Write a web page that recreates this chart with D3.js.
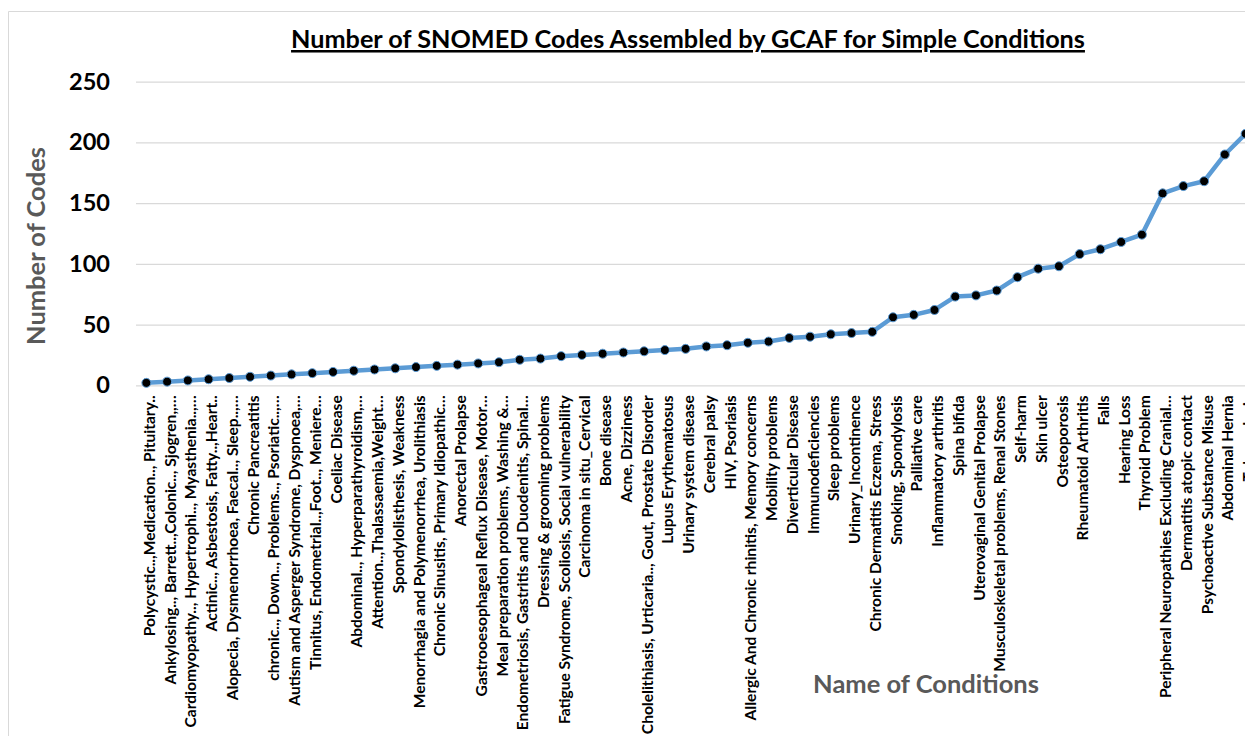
<!DOCTYPE html>
<html>
<head>
<meta charset="utf-8">
<script src="https://cdn.jsdelivr.net/npm/d3@7"></script>
<style>
  body { margin: 0; background: #fff; }
  svg { display: block; }
  text { font-family: "Lato", "Open Sans", sans-serif; font-weight: bold; }
</style>
</head>
<body>
<div id="vis"></div>
<script>
// Condition names (x categories), in the order they appear on the axis
const CONDITIONS = [
  "Polycystic..,Medication.., Pituitary..",
  "Ankylosing.., Barrett..,Colonic.., Sjogren,,…",
  "Cardiomyopathy.., Hypertrophi.., Myasthenia..,…",
  "Actinic.., Asbestosis, Fatty..,Heart..",
  "Alopecia, Dysmenorrhoea, Faecal.., Sleep..,…",
  "Chronic Pancreatitis",
  "chronic.., Down.., Problems.., Psoriatic..,…",
  "Autism and Asperger Syndrome, Dyspnoea,…",
  "Tinnitus, Endometrial..,Foot.., Meniere…",
  "Coeliac Disease",
  "Abdominal.., Hyperparathyroidism,…",
  "Attention..,Thalassaemia,Weight…",
  "Spondylolisthesis, Weakness",
  "Menorrhagia and Polymenorrhea, Urolithiasis",
  "Chronic Sinusitis, Primary Idiopathic…",
  "Anorectal Prolapse",
  "Gastrooesophageal Reflux Disease, Motor…",
  "Meal preparation problems, Washing &…",
  "Endometriosis, Gastritis and Duodenitis, Spinal…",
  "Dressing & grooming problems",
  "Fatigue Syndrome, Scoliosis, Social vulnerability",
  "Carcinoma in situ_Cervical",
  "Bone disease",
  "Acne, Dizziness",
  "Cholelithiasis, Urticaria.., Gout, Prostate Disorder",
  "Lupus Erythematosus",
  "Urinary system disease",
  "Cerebral palsy",
  "HIV, Psoriasis",
  "Allergic And Chronic rhinitis, Memory concerns",
  "Mobility problems",
  "Diverticular Disease",
  "Immunodeficiencies",
  "Sleep problems",
  "Urinary_Incontinence",
  "Chronic Dermatitis Eczema, Stress",
  "Smoking, Spondylosis",
  "Palliative care",
  "Inflammatory arthritis",
  "Spina bifida",
  "Uterovaginal Genital Prolapse",
  "Musculoskeletal problems, Renal Stones",
  "Self-harm",
  "Skin ulcer",
  "Osteoporosis",
  "Rheumatoid Arthritis",
  "Falls",
  "Hearing Loss",
  "Thyroid Problem",
  "Peripheral Neuropathies Excluding Cranial…",
  "Dermatitis atopic contact",
  "Psychoactive Substance Misuse",
  "Abdominal Hernia",
  "Tuberculosis"
];

// Number of codes per condition
const CODE_COUNTS = [
  2, 3, 4, 5, 6, 7, 8, 9, 10, 11,
  12, 13, 14, 15, 16, 17, 18, 19, 21, 22,
  24, 25, 26, 27, 28, 29, 30, 32, 33, 35,
  36, 39, 40, 42, 43, 44, 56, 58, 62, 73,
  74, 78, 89, 96, 98, 108, 112, 118, 124, 158,
  164, 168, 190, 207
];

// Y axis ticks
const Y_TICKS = [0, 50, 100, 150, 200, 250];

const FRAME_WIDTH = 1245;
const FRAME_HEIGHT = 736;
const PLOT = {left: 136, top: 81.6, bottom: 385.3, step: 20.74};
const PLOT_RIGHT = PLOT.left + PLOT.step * CONDITIONS.length;

const FRAME = d3.select("#vis")
  .append("svg")
    .attr("width", FRAME_WIDTH)
    .attr("height", FRAME_HEIGHT);

// Make a text element's width match a target width by scaling its font size
function fitWidth(sel, target) {
  const size = parseFloat(sel.style("font-size"));
  const w = sel.node().getComputedTextLength();
  sel.style("font-size", (size * target / w) + "px");
}

// Chart area border (only top and left edges are inside the frame)
FRAME.append("path")
  .attr("d", "M8.5," + FRAME_HEIGHT + "V11.5H" + FRAME_WIDTH)
  .attr("fill", "none")
  .attr("stroke", "#d9d9d9")
  .attr("stroke-width", 1);

// Scales
const X_SCALE = d3.scaleBand()
  .domain(CONDITIONS)
  .range([PLOT.left, PLOT_RIGHT]);

const Y_SCALE = d3.scaleLinear()
  .domain([0, 250])
  .range([PLOT.bottom, PLOT.top]);

// Title
const title = FRAME.append("text")
  .attr("x", 688)
  .attr("y", 48)
  .attr("text-anchor", "middle")
  .style("font-size", "22px")
  .style("text-decoration", "underline")
  .attr("fill", "#000")
  .text("Number of SNOMED Codes Assembled by GCAF for Simple Conditions");
fitWidth(title, 794);

// Y axis with gridlines
const yAxis = FRAME.append("g")
  .attr("transform", "translate(" + PLOT.left + ",0)")
  .call(d3.axisLeft(Y_SCALE)
    .tickValues(Y_TICKS)
    .tickSizeInner(-(PLOT_RIGHT - PLOT.left))
    .tickSizeOuter(0)
    .tickPadding(26));
yAxis.select(".domain").remove();
yAxis.selectAll("line")
  .attr("stroke", "#d9d9d9")
  .attr("stroke-width", 1.2);
yAxis.selectAll("text")
  .attr("fill", "#000")
  .attr("font-family", null)
  .style("font-size", "25px");
fitWidth(yAxis.selectAll("text").filter((d) => d === 250), 41);
const yTickSize = yAxis.selectAll("text").filter((d) => d === 250).style("font-size");
yAxis.selectAll("text").style("font-size", yTickSize);

// Y axis title
const yTitle = FRAME.append("text")
  .attr("transform", "translate(45,246) rotate(-90)")
  .attr("text-anchor", "middle")
  .attr("fill", "#595959")
  .style("font-size", "25px")
  .text("Number of Codes");
fitWidth(yTitle, 198);

// X axis title (drawn before labels so the labels sit on top)
const xTitle = FRAME.append("text")
  .attr("x", 926)
  .attr("y", 693)
  .attr("text-anchor", "middle")
  .attr("fill", "#595959")
  .style("font-size", "25px")
  .text("Name of Conditions");
fitWidth(xTitle, 226);

// X axis with rotated category labels
const xAxis = FRAME.append("g")
  .attr("transform", "translate(0," + PLOT.bottom + ")")
  .call(d3.axisBottom(X_SCALE).tickSize(0));
xAxis.select(".domain").remove();
xAxis.selectAll("text")
  .attr("font-family", null)
  .attr("fill", "#000")
  .style("font-size", "14px")
  .attr("transform", "rotate(-90)")
  .attr("x", -10)
  .attr("y", 0)
  .attr("dy", "0.55em")
  .attr("text-anchor", "end");
const longest = xAxis.selectAll("text").filter((d) => d.startsWith("Peripheral"));
fitWidth(longest, 303);
xAxis.selectAll("text").style("font-size", longest.style("font-size"));

// Line
const cx = (d, i) => X_SCALE(CONDITIONS[i]) + X_SCALE.bandwidth() / 2;
FRAME.append("path")
  .datum(CODE_COUNTS)
  .attr("fill", "none")
  .attr("stroke", "#5B9BD5")
  .attr("stroke-width", 4.5)
  .attr("stroke-linejoin", "round")
  .attr("d", d3.line().x(cx).y((d) => Y_SCALE(d)));

// Markers
FRAME.append("g")
  .selectAll("circle")
  .data(CODE_COUNTS)
  .enter()
  .append("circle")
    .attr("cx", cx)
    .attr("cy", (d) => Y_SCALE(d))
    .attr("r", 4.5)
    .attr("fill", "#000")
    .attr("stroke", "#5B9BD5")
    .attr("stroke-width", 1);
</script>
</body>
</html>
